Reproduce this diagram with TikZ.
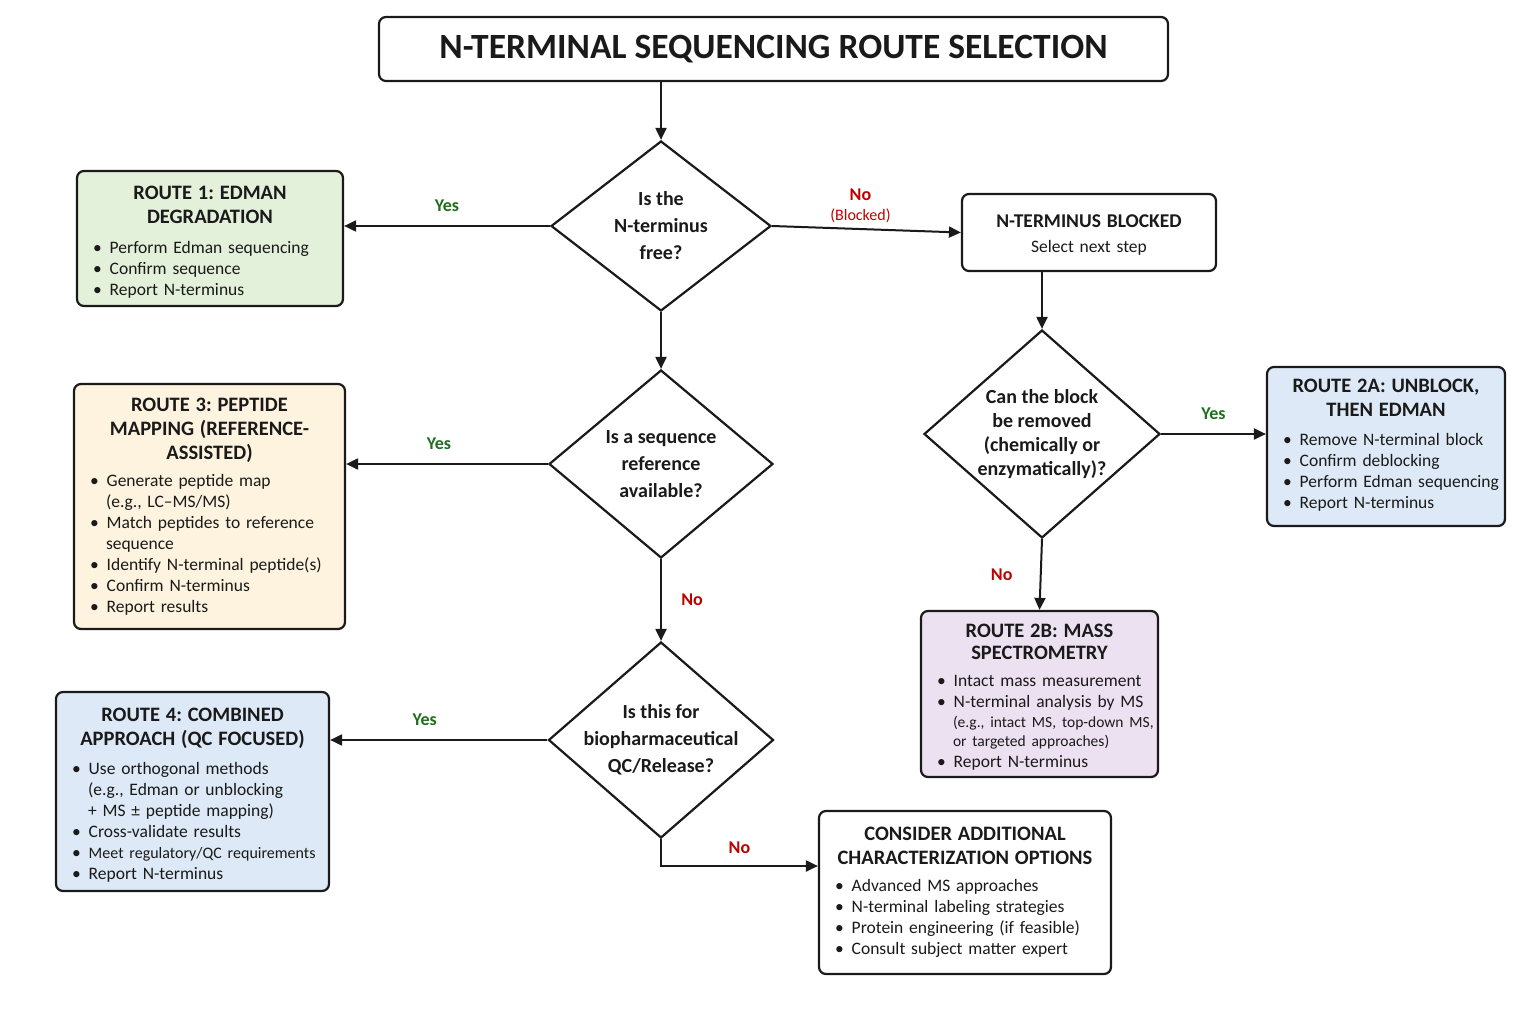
\documentclass[tikz,border=0pt]{standalone}
\usepackage{fontspec}
\setmainfont{Carlito}
\usetikzlibrary{shapes.geometric,arrows.meta}
\definecolor{gfill}{HTML}{E3F0DA}
\definecolor{yfill}{HTML}{FDF3DE}
\definecolor{bfill}{HTML}{DDE9F6}
\definecolor{pfill}{HTML}{ECE1F1}
\definecolor{ygreen}{HTML}{1F6F1F}
\definecolor{nred}{HTML}{C00000}
\definecolor{ink}{HTML}{1A1A1A}
\frenchspacing
\newcommand{\bodyf}{\fontsize{17.5}{21}\selectfont}
\newcommand{\smallf}{\fontsize{15.5}{19.5}\selectfont}
\newcommand{\headf}{\fontsize{20.5}{24}\selectfont\bfseries}
\newcommand{\diaf}{\fontsize{20}{27}\selectfont\bfseries}
\newcommand{\lblf}{\fontsize{18}{20}\selectfont\bfseries}
\newcommand{\titlef}{\fontsize{35.5}{40}\selectfont\bfseries}
\newcommand{\nobr}[1]{\makebox[0pt][l]{#1}}
\newenvironment{blist}{\raggedright\begin{list}{\textbullet}{\setlength{\leftmargin}{24pt}\setlength{\labelsep}{8pt}\setlength{\labelwidth}{8pt}\setlength{\itemsep}{0pt}\setlength{\parsep}{0pt}\setlength{\topsep}{0pt}\setlength{\partopsep}{0pt}\setlength{\listparindent}{0pt}}}{\end{list}}
\begin{document}
\begin{tikzpicture}[x=1pt,y=-1pt,
  every node/.style={font=\bodyf, text=ink},
  box/.style={draw=ink, line width=2.2pt, rounded corners=7pt, inner xsep=8pt, inner ysep=0pt},
  dia/.style={diamond, draw=ink, line width=2.2pt, fill=white, inner sep=0pt},
  dtext/.style={font=\diaf, align=center},
  arr/.style={draw=ink, line width=2pt, -{Triangle[length=12pt,width=11pt]}},
  yes/.style={font=\lblf, text=ygreen},
  no/.style={font=\lblf, text=nred}]
\fill[white] (0,0) rectangle (1536,1024);
\useasboundingbox (0,0) rectangle (1536,1024);

% title
\node[box, minimum width=789pt, minimum height=64pt, font=\titlef] (title) at (773.5,49) {N-TERMINAL SEQUENCING ROUTE SELECTION};

% diamonds
\node[dia, minimum width=220pt, minimum height=170pt] (d1) at (661,226) {};
\node[dtext] (d1t) at (d1) {Is the\\N-terminus\\free?};
\node[dia, minimum width=224pt, minimum height=188pt] (d2) at (661,464) {};
\node[dtext] (d2t) at (d2) {Is a sequence\\reference\\available?};
\node[dia, minimum width=236pt, minimum height=208pt] (d3) at (1042,434) {};
\node[dtext, font=\fontsize{20}{24}\selectfont\bfseries] (d3t) at (d3) {Can the block\\be removed\\(chemically or\\enzymatically)?};
\node[dia, minimum width=225pt, minimum height=196pt] (d4) at (661,740) {};
\node[dtext] (d4t) at (d4) {Is this for\\biopharmaceutical\\QC/Release?};

% route boxes
\node[box, fill=gfill, minimum width=266pt, minimum height=135pt, text width=250pt] (r1) at (210,238.5) {%
{\headf\centering ROUTE 1: EDMAN\\DEGRADATION\par}\vspace{9pt}
\begin{blist}\item Perform Edman sequencing\item Confirm sequence\item Report N-terminus\end{blist}\vspace{-8pt}};

\node[box, fill=yfill, minimum width=271pt, minimum height=245pt, text width=255pt] (r3) at (209.5,506.5) {%
{\headf\centering ROUTE 3: PEPTIDE\\MAPPING (REFERENCE-\\ASSISTED)\par}\vspace{6pt}
\begin{blist}\item Generate peptide map\\(e.g., LC\textendash MS/MS)\item Match peptides to reference\\sequence\item Identify N-terminal peptide(s)\item Confirm N-terminus\item Report results\end{blist}};

\node[box, fill=bfill, minimum width=273pt, minimum height=199pt, text width=257pt] (r4) at (192.5,791.5) {%
{\headf\centering ROUTE 4: COMBINED\\APPROACH (QC FOCUSED)\par}\vspace{8pt}
\begin{blist}\item Use orthogonal methods\\(e.g., Edman or unblocking\\+ MS ± peptide mapping)\item Cross-validate results\item {\fontsize{16}{21}\selectfont Meet regulatory/QC requirements}\item Report N-terminus\end{blist}\vspace{-7pt}};

\node[box, fill=white, minimum width=254pt, minimum height=77pt, text width=238pt] (blk) at (1089,232.5) {%
\centering{\fontsize{19.5}{23}\selectfont\bfseries N-TERMINUS BLOCKED\par}\vspace{4pt}Select next step\par\vspace{-6pt}};

\node[box, fill=bfill, minimum width=238pt, minimum height=159pt, text width=222pt] (r2a) at (1386,446.5) {%
{\headf\centering ROUTE 2A: UNBLOCK,\\THEN EDMAN\par}\vspace{8pt}
\begin{blist}\item Remove N-terminal block\item Confirm deblocking\item \nobr{Perform Edman sequencing}\item Report N-terminus\end{blist}\vspace{2pt}};

\node[box, fill=pfill, minimum width=237pt, minimum height=166pt, text width=221pt] (r2b) at (1039.5,694) {%
{\fontsize{20.5}{22.5}\selectfont\bfseries\centering ROUTE 2B: MASS\\SPECTROMETRY\par}\vspace{6pt}
\begin{blist}\item Intact mass measurement\item N-terminal analysis by MS\par{\smallf \nobr{(e.g., intact MS, top-down MS,}\\\nobr{or targeted approaches)}\par}\item Report N-terminus\end{blist}\vspace{-6pt}};

\node[box, fill=white, minimum width=292pt, minimum height=163pt, text width=276pt] (cons) at (965,892.5) {%
{\headf\centering CONSIDER ADDITIONAL\\CHARACTERIZATION OPTIONS\par}\vspace{6pt}
\begin{blist}\item Advanced MS approaches\item N-terminal labeling strategies\item Protein engineering (if feasible)\item Consult subject matter expert\end{blist}};

% connectors
\draw[arr] (d1.north |- title.south) -- (d1.north);
\draw[arr] (d1.west) -- node[yes, above=10pt] (l1) {Yes} (d1.west -| r1.east);
\draw[arr] (d1.east) -- node[no, above=2pt, xshift=-6pt, align=center] (l2) {No\\{\fontsize{16}{17}\selectfont\mdseries (Blocked)}} (blk.west);
\draw[arr] (d3.north |- blk.south) -- (d3.north);
\draw[arr] (d3.east) -- node[yes, above=10pt] (l3) {Yes} (d3.east -| r2a.west);
\draw[arr] (d3.south) -- node[no, left=24pt] (l4) {No} (r2b.north);
\draw[arr] (d1.south) -- (d2.north);
\draw[arr] (d2.west) -- node[yes, above=10pt, xshift=-8pt] (l5) {Yes} (d2.west -| r3.east);
\draw[arr] (d2.south) -- node[no, right=16pt] (l6) {No} (d4.north);
\draw[arr] (d4.west) -- node[yes, above=10pt, xshift=-14pt] (l7) {Yes} (d4.west -| r4.east);
\draw[arr] (d4.south) |- node[no, pos=0.75, above=8pt] (l8) {No} ([yshift=26.5pt]cons.west);
\end{tikzpicture}
\end{document}
